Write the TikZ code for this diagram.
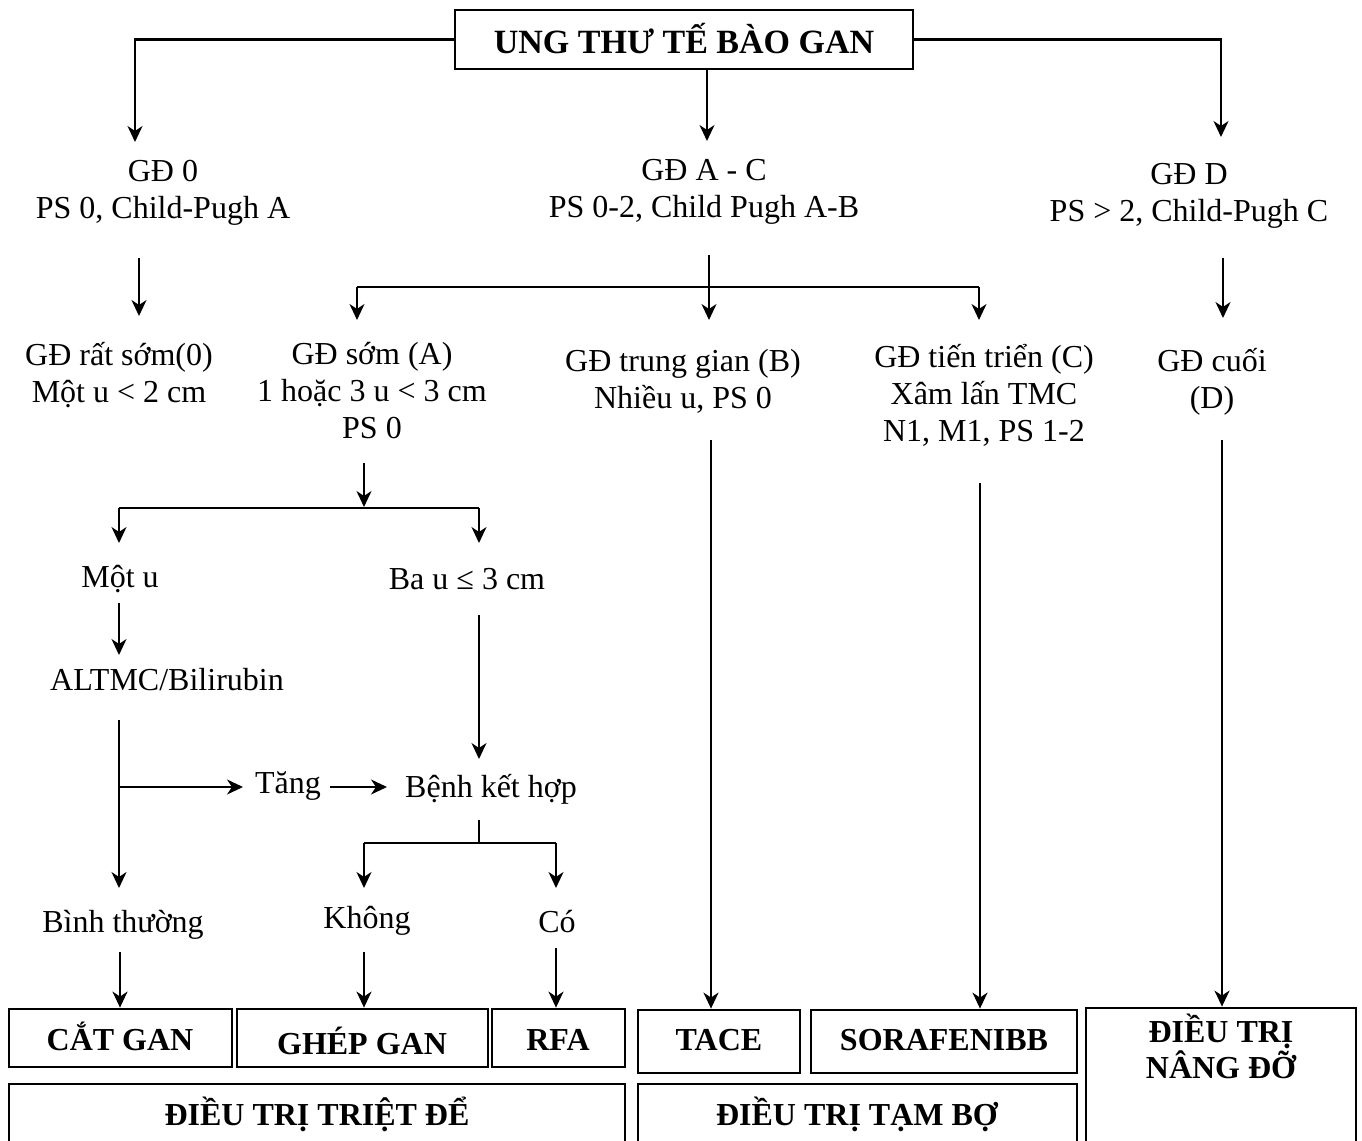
\documentclass[tikz,border=0pt]{standalone}
\usepackage{fontspec}
\setmainfont{Liberation Serif}
\usetikzlibrary{arrows.meta,fit}
\begin{document}
\begin{tikzpicture}[x=0.5pt,y=-0.5pt,
  conn/.style={line width=1.1pt},
  arr/.style={conn,-{Stealth[length=8pt,width=7.5pt,inset=2.5pt]}},
  txt/.style={anchor=base,align=center,inner sep=0pt,font=\fontsize{16}{18.5}\selectfont},
  btxt/.style={anchor=base,align=center,inner sep=0pt,font=\fontsize{16}{18}\selectfont\bfseries},
  frame/.style={draw,line width=1.4pt,inner sep=0pt}]
\useasboundingbox (0,0) rectangle (1362,1141);

% ---- boxes ----
\node[frame,fit={(455,10) (913,69)}] (title) {};
\node[frame,fit={(9,1009) (232,1067)}] (cat) {};
\node[frame,fit={(237,1009) (488,1067)}] (ghep) {};
\node[frame,fit={(492,1009) (625,1067)}] (rfa) {};
\node[frame,fit={(9,1084) (625,1144)}] (triet) {};
\node[frame,fit={(638,1010) (800,1073)}] (tace) {};
\node[frame,fit={(811,1010) (1077,1073)}] (sora) {};
\node[frame,fit={(638,1084) (1077,1144)}] (tambo) {};
\node[frame,fit={(1086,1008) (1356,1144)}] (nang) {};

% ---- box texts (placed at the baseline of their last line) ----
\node[btxt,font=\fontsize{17}{19}\selectfont\bfseries] (titleT) at (684,53) {UNG THƯ TẾ BÀO GAN};
\node[btxt] (catT) at (120,1050) {CẮT GAN};
\node[btxt] (ghepT) at (362,1054) {GHÉP GAN};
\node[btxt] (rfaT) at (558,1050) {RFA};
\node[btxt] (trietT) at (317,1125) {ĐIỀU TRỊ TRIỆT ĐỂ};
\node[btxt] (taceT) at (719,1050) {TACE};
\node[btxt] (soraT) at (944,1050) {SORAFENIBB};
\node[btxt] (tamboT) at (857,1125) {ĐIỀU TRỊ TẠM BỢ};
\node[btxt] (nangT) at (1221,1078) {ĐIỀU TRỊ\\NÂNG ĐỠ};

% ---- stage texts (placed at the baseline of their last line) ----
\node[txt] (gd0) at (163,218) {GĐ 0\\PS 0, Child-Pugh A};
\node[txt] (gdac) at (704,217) {GĐ A - C\\PS 0-2, Child Pugh A-B};
\node[txt] (gdd) at (1189,221) {GĐ D\\PS > 2, Child-Pugh C};
\node[txt] (rsom) at (119,402) {GĐ rất sớm(0)\\Một u < 2 cm};
\node[txt] (som) at (372,438) {GĐ sớm (A)\\1 hoặc 3 u < 3 cm\\PS 0};
\node[txt] (tg) at (683,408) {GĐ trung gian (B)\\Nhiều u, PS 0};
\node[txt] (tt) at (984,441) {GĐ tiến triển (C)\\Xâm lấn TMC\\N1, M1, PS 1-2};
\node[txt] (cuoi) at (1212,408) {GĐ cuối\\(D)};
\node[txt] (motu) at (120,587) {Một u};
\node[txt] (bau) at (467,589) {Ba u ≤ 3 cm};
\node[txt] (altmc) at (167,690) {ALTMC/Bilirubin};
\node[txt] (tang) at (288,793) {Tăng};
\node[txt] (benh) at (491,797) {Bệnh kết hợp};
\node[txt] (binh) at (123,932) {Bình thường};
\node[txt] (khong) at (367,928) {Không};
\node[txt] (co) at (557,932) {Có};

% ---- connector points ----
\coordinate (p1) at (135,142);
\coordinate (p2) at (707,141);
\coordinate (p3) at (1221,137);
\coordinate (q1s) at (139,258);  \coordinate (q1e) at (139,316);
\coordinate (q2s) at (709,255);  \coordinate (q2e) at (709,320);
\coordinate (hl) at (357,287);   \coordinate (hr) at (979,287);
\coordinate (hle) at (357,320);  \coordinate (hre) at (979,320);
\coordinate (q3s) at (1223,258); \coordinate (q3e) at (1223,318);
\coordinate (r0s) at (364,463);  \coordinate (r0e) at (364,507);
\coordinate (rl) at (119,508);   \coordinate (rr) at (479,508);
\coordinate (rle) at (119,543);  \coordinate (rre) at (479,543);
\coordinate (m1s) at (119,603);  \coordinate (m1e) at (119,655);
\coordinate (m2s) at (119,720);  \coordinate (m2e) at (119,888);
\coordinate (tb) at (119,787);   \coordinate (tbe) at (243,787);
\coordinate (ts) at (330,787);   \coordinate (te) at (387,787);
\coordinate (b1s) at (479,615);  \coordinate (b1e) at (479,759);
\coordinate (k0s) at (479,820);  \coordinate (kj) at (479,843);
\coordinate (kl) at (364,843);   \coordinate (kr) at (556,843);
\coordinate (kle) at (364,888);  \coordinate (kre) at (556,888);
\coordinate (f1) at (120,952);
\coordinate (f2) at (364,952);
\coordinate (f3) at (556,948);
\coordinate (g1) at (711,440);
\coordinate (g2) at (980,483);
\coordinate (g3) at (1222,440);

% ---- connectors ----
\draw[arr] (title.west) -| (p1);
\draw[arr] (title.south -| p2) -- (p2);
\draw[arr] (title.east) -| (p3);

\draw[arr] (q1s) -- (q1e);
\draw[arr] (q2s) -- (q2e);
\draw[conn] (hl) -- (hr);
\draw[arr] (hl) -- (hle);
\draw[arr] (hr) -- (hre);
\draw[arr] (q3s) -- (q3e);

\draw[arr] (r0s) -- (r0e);
\draw[conn] (rl) -- (rr);
\draw[arr] (rl) -- (rle);
\draw[arr] (rr) -- (rre);

\draw[arr] (m1s) -- (m1e);
\draw[arr] (m2s) -- (m2e);
\draw[arr] (tb) -- (tbe);
\draw[arr] (ts) -- (te);
\draw[arr] (b1s) -- (b1e);

\draw[conn] (k0s) -- (kj);
\draw[conn] (kl) -- (kr);
\draw[arr] (kl) -- (kle);
\draw[arr] (kr) -- (kre);

\draw[arr] (f1) -- (f1 |- cat.north);
\draw[arr] (f2) -- (f2 |- ghep.north);
\draw[arr] (f3) -- (f3 |- rfa.north);
\draw[arr] (g1) -- (g1 |- tace.north);
\draw[arr] (g2) -- (g2 |- sora.north);
\draw[arr] (g3) -- (g3 |- nang.north);
\end{tikzpicture}
\end{document}
